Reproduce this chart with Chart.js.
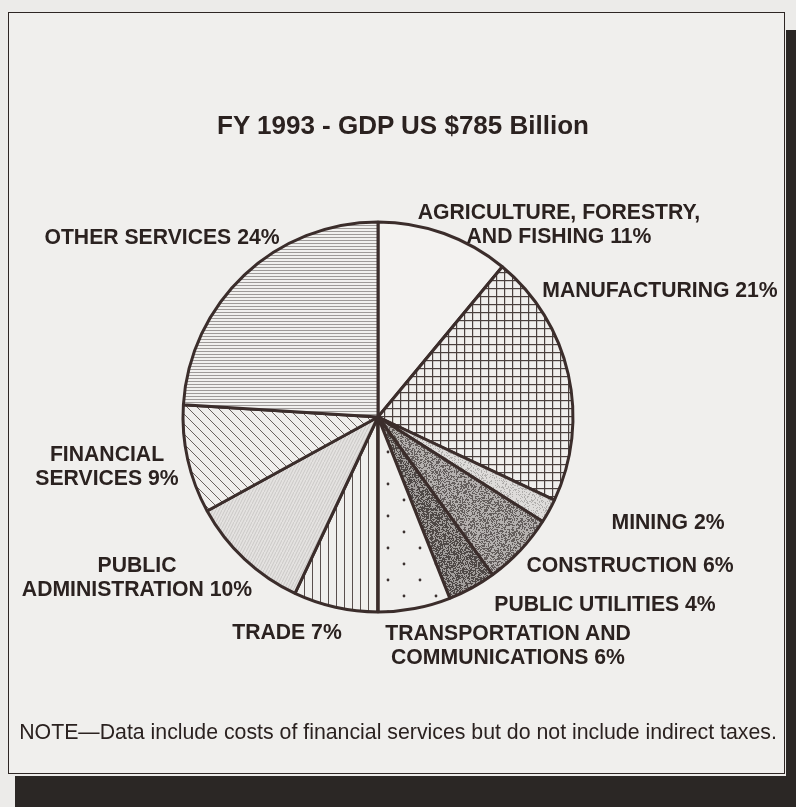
<!DOCTYPE html>
<html>
<head>
<meta charset="utf-8">
<script src="https://cdn.jsdelivr.net/npm/chart.js@4"></script>
<style>
  html, body { margin: 0; padding: 0; }
  body { width: 796px; height: 807px; position: relative; background: #ecebe9; overflow: hidden;
         font-family: "Liberation Sans", Arial, Helvetica, sans-serif; color: #2b2220; }
  #frame { position: absolute; left: 8px; top: 12px; width: 777px; height: 762px;
           border: 1.5px solid #2e2624; background: #f0efed; box-sizing: border-box; }
  #shadowR { position: absolute; left: 786px; top: 30px; width: 10px; height: 777px; background: #2b2725; }
  #shadowB { position: absolute; left: 15px; top: 776px; width: 781px; height: 31px; background: #2b2725; }
  #chartWrap { position: absolute; left: 0; top: 0; width: 796px; height: 807px; }
  .t { position: absolute; white-space: nowrap; font-weight: bold; font-size: 21.2px; line-height: 24px;
       text-align: center; transform: translate(-50%, -50%); }
  #title { position: absolute; left: 403px; top: 125px; transform: translate(-50%, -50%);
           font-weight: bold; font-size: 26px; white-space: nowrap; }
  #note { position: absolute; left: 398px; top: 732px; transform: translate(-50%, -50%);
          font-size: 21.3px; white-space: nowrap; }
</style>
</head>
<body>
<div id="shadowR"></div>
<div id="shadowB"></div>
<div id="frame"></div>
<div id="chartWrap"><canvas id="c" width="796" height="807"></canvas></div>
<div id="title"></div>
<div id="labels"></div>
<div id="note"></div>
<script>
// ---- data ----
const titleText = "FY 1993 - GDP US $785 Billion";
const noteText = "NOTE\u2014Data include costs of financial services but do not include indirect taxes.";
const categories = [
  "AGRICULTURE, FORESTRY, AND FISHING",
  "MANUFACTURING",
  "MINING",
  "CONSTRUCTION",
  "PUBLIC UTILITIES",
  "TRANSPORTATION AND COMMUNICATIONS",
  "TRADE",
  "PUBLIC ADMINISTRATION",
  "FINANCIAL SERVICES",
  "OTHER SERVICES"
];
const shares = [11, 21, 2, 6, 4, 6, 7, 10, 9, 24];
const labelLines = [
  ["AGRICULTURE, FORESTRY,", "AND FISHING 11%"],
  ["MANUFACTURING 21%"],
  ["MINING 2%"],
  ["CONSTRUCTION 6%"],
  ["PUBLIC UTILITIES 4%"],
  ["TRANSPORTATION AND", "COMMUNICATIONS 6%"],
  ["TRADE 7%"],
  ["PUBLIC", "ADMINISTRATION 10%"],
  ["FINANCIAL", "SERVICES 9%"],
  ["OTHER SERVICES 24%"]
];
// label placement (layout only)
const labelPos = [
  [559, 224], [660, 290], [668, 522], [630, 565], [605, 604],
  [508, 645], [287, 632], [137, 577], [107, 466], [162, 237]
];

document.getElementById('title').textContent = titleText;
document.getElementById('note').textContent = noteText;
const lab = document.getElementById('labels');
labelLines.forEach((lines, i) => {
  const d = document.createElement('div');
  d.className = 't';
  d.style.left = labelPos[i][0] + 'px';
  d.style.top = labelPos[i][1] + 'px';
  d.innerHTML = lines.join('<br>');
  lab.appendChild(d);
});

// ---- patterns (style only) ----
const ctxMain = document.getElementById('c').getContext('2d');
function pat(w, h, fn) {
  const c = document.createElement('canvas');
  c.width = w; c.height = h;
  const g = c.getContext('2d');
  fn(g, w, h);
  return ctxMain.createPattern(c, 'repeat');
}
let seed = 12345;
function rnd() { seed = (seed * 16807) % 2147483647; return seed / 2147483647; }
function stipple(base, dark, density, w, h) {
  return pat(w, h, (g) => {
    g.fillStyle = base; g.fillRect(0, 0, w, h);
    g.fillStyle = dark;
    for (let y = 0; y < h; y++) for (let x = 0; x < w; x++) {
      if (rnd() < density) g.fillRect(x, y, 1, 1);
    }
  });
}
const BG = '#f0efed';
const fills = [
  pat(8, 8, (g, w, h) => { g.fillStyle = '#f3f2f0'; g.fillRect(0, 0, w, h); }),
  pat(8, 8, (g, w, h) => { g.fillStyle = BG; g.fillRect(0, 0, w, h);
      g.fillStyle = '#4a403e'; g.fillRect(0, 0, w, 1.2); g.fillRect(0, 0, 1.2, h); }),
  stipple('#dedcda', '#b0aeac', 0.25, 32, 32),
  stipple('#b4b0ae', '#645e5c', 0.45, 48, 48),
  stipple('#a29e9c', '#4e4846', 0.55, 48, 48),
  pat(32, 32, (g, w, h) => { g.fillStyle = BG; g.fillRect(0, 0, w, h);
      g.fillStyle = '#3b3130';
      g.beginPath(); g.arc(4, 4, 1.4, 0, Math.PI * 2); g.fill();
      g.beginPath(); g.arc(20, 20, 1.4, 0, Math.PI * 2); g.fill(); }),
  pat(8, 8, (g, w, h) => { g.fillStyle = BG; g.fillRect(0, 0, w, h);
      g.fillStyle = '#5a504e'; g.fillRect(0, 0, 1, h); }),
  pat(6, 6, (g, w, h) => { g.fillStyle = '#e4e2e0'; g.fillRect(0, 0, w, h);
      g.strokeStyle = '#cac8c6'; g.lineWidth = 1;
      g.beginPath(); g.moveTo(0, 6); g.lineTo(3, 0); g.moveTo(3, 6); g.lineTo(6, 0); g.stroke(); }),
  pat(10, 10, (g, w, h) => { g.fillStyle = BG; g.fillRect(0, 0, w, h);
      g.strokeStyle = '#5a504e'; g.lineWidth = 0.9;
      g.beginPath(); g.moveTo(-1, -1); g.lineTo(11, 11); g.moveTo(-1, 9); g.lineTo(1, 11); g.moveTo(9, -1); g.lineTo(11, 1); g.stroke(); }),
  pat(8, 3, (g, w, h) => { g.fillStyle = '#f1f0ee'; g.fillRect(0, 0, w, h);
      g.fillStyle = '#9e9a98'; g.fillRect(0, 0, w, 1); })
];

Chart.defaults.font.family = '"Liberation Sans", Arial, sans-serif';
new Chart(document.getElementById('c'), {
  type: 'pie',
  data: {
    labels: categories,
    datasets: [{
      data: shares,
      backgroundColor: fills,
      borderColor: '#3b2d2b',
      borderWidth: 3,
      borderAlign: 'center'
    }]
  },
  options: {
    responsive: false,
    animation: false,
    events: [],
    layout: { padding: { left: 180.5, right: 220.5, top: 220.5, bottom: 193.5 } },
    plugins: { legend: { display: false }, tooltip: { enabled: false }, title: { display: false } }
  }
});
</script>
</body>
</html>
